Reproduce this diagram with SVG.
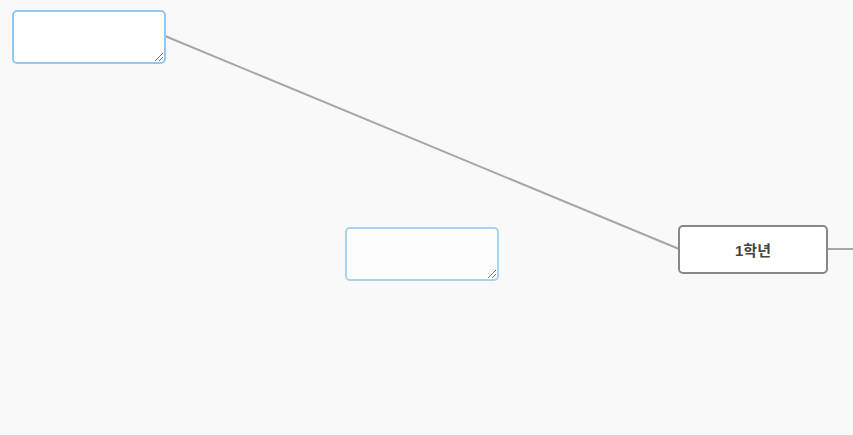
<svg xmlns="http://www.w3.org/2000/svg" width="853" height="435" viewBox="0 0 853 435">
<style>
.ta{fill:#fff;stroke:#92c9ef;stroke-width:2}
.grip{stroke:#777;stroke-width:1}
.node{fill:#fff;stroke:#888;stroke-width:2}
.conn{stroke:#a6a6a6;stroke-width:2;fill:none}
.lbl{font-family:"Liberation Sans","Noto Sans CJK KR",sans-serif;font-size:15px;font-weight:bold;fill:#444}
</style>
<rect width="853" height="435" fill="#f9f9f9"/>
<g id="connectors">
<line class="conn" x1="165" y1="36" x2="679" y2="249"/>
<line class="conn" x1="827" y1="249" x2="853" y2="249"/>
</g>
<g id="textarea1">
<rect class="ta" x="13" y="11" width="152" height="52" rx="4"/>
<line class="grip" x1="155" y1="61" x2="163" y2="53"/>
<line class="grip" x1="159" y1="61" x2="163" y2="57"/>
</g>
<g id="textarea2">
<rect class="ta" x="346" y="228" width="152" height="52" rx="4" style="fill:#fdfdfd;stroke:#a9d2ef"/>
<line class="grip" x1="488" y1="278" x2="496" y2="270"/>
<line class="grip" x1="492" y1="278" x2="496" y2="274"/>
</g>
<g id="node1">
<rect class="node" x="679" y="226" width="148" height="47" rx="4"/>
<text class="lbl" x="753" y="256" text-anchor="middle">1학년</text>
</g>
</svg>
